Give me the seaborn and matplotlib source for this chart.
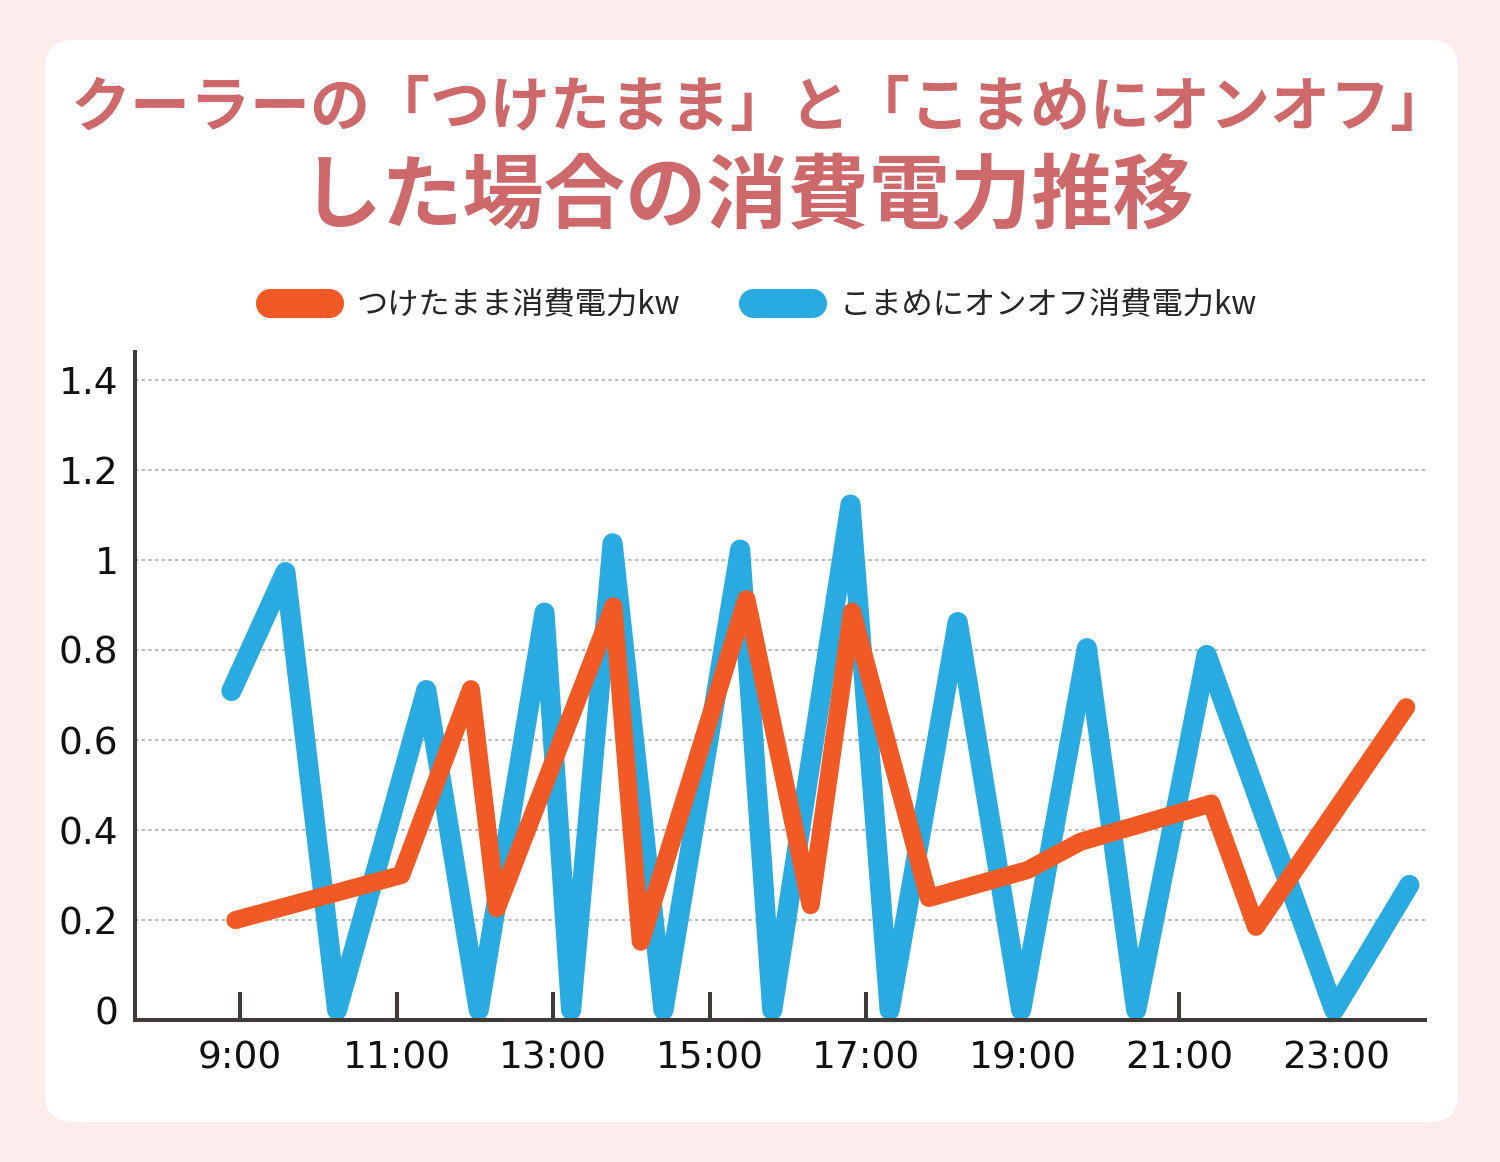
import pandas as pd
import matplotlib.pyplot as plt
import seaborn as sns
from matplotlib.lines import Line2D
from matplotlib.patches import FancyBboxPatch
from matplotlib.transforms import IdentityTransform, ScaledTranslation

# ----------------------------
# data (hours as decimals)
# ----------------------------
keep_hours = [8.94, 11.06, 11.95, 12.28, 13.77, 14.12, 15.47, 16.29, 16.82,
              17.80, 19.06, 19.74, 21.41, 21.98, 23.90]
keep_kw = [0.20, 0.30, 0.713, 0.226, 0.897, 0.152, 0.913, 0.233, 0.885,
           0.249, 0.311, 0.374, 0.459, 0.185, 0.673]

onoff_hours = [8.89, 9.58, 10.24, 11.38, 12.05, 12.89, 13.23, 13.76, 14.41,
               15.39, 15.80, 16.80, 17.30, 18.17, 18.98, 19.82, 20.45,
               21.35, 22.98, 23.94]
onoff_kw = [0.709, 0.973, 0.0, 0.711, 0.0, 0.883, 0.0, 1.037, 0.0,
            1.023, 0.0, 1.123, 0.0, 0.862, 0.0, 0.804, 0.0, 0.789, 0.0, 0.278]

x_ticks = [9, 11, 13, 15, 17, 19, 21, 23]
x_labels = ["9:00", "11:00", "13:00", "15:00", "17:00", "19:00", "21:00", "23:00"]
y_ticks = [0, 0.2, 0.4, 0.6, 0.8, 1.0, 1.2, 1.4]
y_labels = ["0", "0.2", "0.4", "0.6", "0.8", "1", "1.2", "1.4"]

keep_name = "つけたまま消費電力kw"
onoff_name = "こまめにオンオフ消費電力kw"
title1 = "クーラーの「つけたまま」と「こまめにオンオフ」"
title2 = "した場合の消費電力推移"

orange = "#F15A24"
blue = "#29ABE2"
title_color = "#CD686B"
axis_color = "#3E3A39"

df_keep = pd.DataFrame({"hour": keep_hours, "kw": keep_kw})
df_onoff = pd.DataFrame({"hour": onoff_hours, "kw": onoff_kw})

# ----------------------------
# figure
# ----------------------------
sns.set_style("white")
plt.rcParams['font.family'] = ['Noto Sans CJK JP', 'DejaVu Sans']

fig = plt.figure(figsize=(15, 11.62), dpi=100)
fig.patch.set_facecolor("#FDECEC")
card = FancyBboxPatch((45, 40), 1413, 1082, boxstyle="round,pad=0,rounding_size=28",
                      transform=IdentityTransform(), facecolor="white",
                      edgecolor="none", zorder=-5)
fig.patches.append(card)

ax = fig.add_axes([135 / 1500, 142 / 1162, 1290 / 1500, 668 / 1162])
ax.set_facecolor("none")
ax.set_zorder(1)

sns.lineplot(data=df_onoff, x="hour", y="kw", color=blue, linewidth=14.5,
             sort=False, ax=ax, solid_joinstyle="round", solid_capstyle="round")
sns.lineplot(data=df_keep, x="hour", y="kw", color=orange, linewidth=13,
             sort=False, ax=ax, solid_joinstyle="round", solid_capstyle="round")

ax.set_xlim(7.658, 24.14)
ax.set_ylim(-0.022, 1.462)
ax.set_xticks(x_ticks)
ax.set_xticklabels(x_labels, family="DejaVu Sans")
ax.set_yticks(y_ticks)
ax.set_yticklabels(y_labels, family="DejaVu Sans")
ax.set_xlabel("")
ax.set_ylabel("")

ax.yaxis.grid(True, linestyle=(0, (2, 2)), color="#AAAAAA", linewidth=1.2)
ax.xaxis.grid(False)
# the zero line sits on the axis in the original
ax.yaxis.get_gridlines()[0].set_visible(False)
zero_tick = ax.yaxis.get_major_ticks()[0]
zero_tick.label1.set_transform(zero_tick.label1.get_transform() +
                               ScaledTranslation(0, -0.09, fig.dpi_scale_trans))

for s in ["top", "right"]:
    ax.spines[s].set_visible(False)
for s in ["left", "bottom"]:
    ax.spines[s].set_color(axis_color)
    ax.spines[s].set_linewidth(2.9)
    ax.spines[s].set_zorder(3)

ax.tick_params(axis="x", bottom=True, direction="in", length=20, width=2.9,
               color=axis_color, labelsize=27, pad=15, labelcolor="#111111")
ax.tick_params(axis="y", left=False, length=0, labelsize=27, pad=12,
               labelcolor="#111111")

# ----------------------------
# titles & legend
# ----------------------------
fig.text(0.507, 1 - 108 / 1162, title1, ha="center", va="center",
         fontsize=43.2, fontweight="bold", color=title_color)
fig.text(0.4985, 1 - 198 / 1162, title2, ha="center", va="center",
         fontsize=58.5, fontweight="bold", color=title_color)

handles = [Line2D([], [], color=orange, linewidth=21, solid_capstyle="round"),
           Line2D([], [], color=blue, linewidth=21, solid_capstyle="round")]
fig.legend(handles, [keep_name, onoff_name], loc="center",
           bbox_to_anchor=(0.509, 1 - 305 / 1162), ncol=2, frameon=False,
           fontsize=22.5, handlelength=1.9, handletextpad=0.9,
           columnspacing=2.3)

plt.savefig("out.png", dpi=100, facecolor=fig.get_facecolor())
